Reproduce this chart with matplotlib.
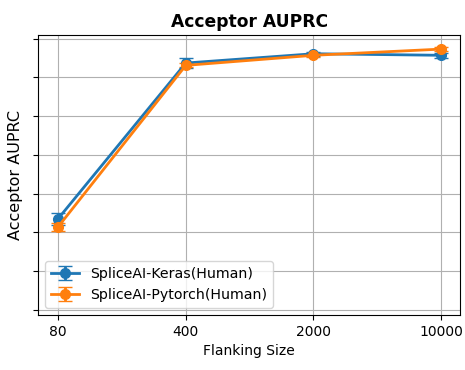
import matplotlib
matplotlib.use("Agg")
import matplotlib.pyplot as plt
import numpy as np

flank_sizes = ["80", "400", "2000", "10000"]
keras_mean = [2.35, 6.37, 6.61, 6.57]
keras_err = [0.15, 0.12, 0.05, 0.06]
torch_mean = [2.14, 6.31, 6.57, 6.73]
torch_err = [0.10, 0.05, 0.05, 0.06]
y_ticks = [0, 1, 2, 3, 4, 5, 6, 7]

x = np.arange(len(flank_sizes))

fig = plt.figure(figsize=(4.65, 3.7), dpi=100)
ax = fig.add_axes([0.082, 0.149, 0.908, 0.756])

ax.errorbar(x, keras_mean, yerr=keras_err, marker='o', markersize=7, capsize=5,
            linewidth=2, label='SpliceAI-Keras(Human)', color='#1f77b4')
ax.errorbar(x, torch_mean, yerr=torch_err, marker='o', markersize=7, capsize=5,
            linewidth=2, label='SpliceAI-Pytorch(Human)', color='#ff7f0e')

ax.set_xticks(x)
ax.set_xticklabels(flank_sizes)
ax.set_yticks(y_ticks)
ax.set_yticklabels([])
ax.set_ylim(-0.13, 7.09)
ax.set_xlim(-0.156, 3.15)
ax.grid(True)
ax.set_xlabel('Flanking Size')
ax.set_ylabel('Acceptor AUPRC', fontsize=11.5)
ax.set_title('Acceptor AUPRC', fontweight='bold', fontsize=12.3)
ax.legend(loc='lower left', fontsize=10.2)

fig.savefig('out.png', dpi=100)
